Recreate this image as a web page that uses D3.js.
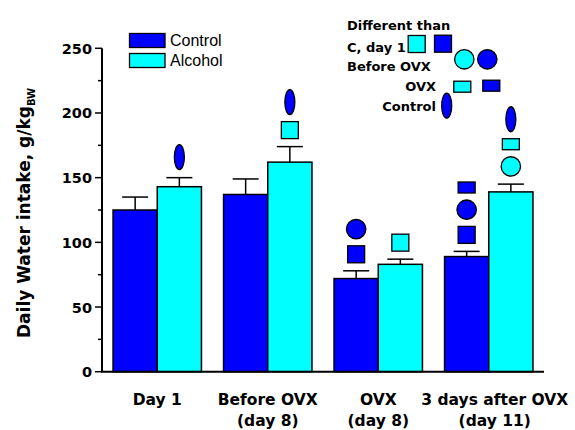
<!DOCTYPE html>
<html>
<head>
<meta charset="UTF-8">
<title>Daily water intake</title>
<script src="https://cdn.jsdelivr.net/npm/d3@7/dist/d3.min.js"></script>
<style>
    body { margin: 0; background: #fff; }
    .bold { font-family: "DejaVu Sans", sans-serif; font-weight: bold; fill: #000; }
    .reg { font-family: "Liberation Sans", Arial, sans-serif; fill: #000; }
</style>
</head>
<body>
<script>

    var categories = [["Day 1"], ["Before OVX", "(day 8)"], ["OVX", "(day 8)"], ["3 days after OVX", "(day 11)"]];
    var controlMean = [125, 137, 72, 89];
    var controlSem = [10, 12, 6, 4];
    var alcoholMean = [143, 162, 83, 139];
    var alcoholSem = [7, 12, 4, 6];
    var yTicks = [0, 50, 100, 150, 200, 250];
    // significance marks, bottom to top, for each bar
    var controlMarks = [[], [], ["day1", "before"], ["day1", "before", "ovx"]];
    var alcoholMarks = [["control"], ["day1", "control"], ["day1"], ["before", "ovx", "control"]];

    var blue = "#0000ff", cyan = "#00ffff";
    var width = 575, height = 430;
    // note: "top" is window.top, so use other names
    var plotL = 102, plotR = 544, plotT = 48.3, plotB = 371.7;

    var svg = d3.select("body").append("svg")
            .attr("width", width)
            .attr("height", height);

    var x = d3.scaleBand().domain(d3.range(4)).range([plotL, plotR]).paddingInner(0.2).paddingOuter(0.1);
    var y = d3.scaleLinear().domain([0, 250]).range([plotB, plotT]);
    var bw = x.bandwidth() / 2;

    var series = [
        {key: "Control", color: blue, mean: controlMean, sem: controlSem, marks: controlMarks, off: 0},
        {key: "Alcohol", color: cyan, mean: alcoholMean, sem: alcoholSem, marks: alcoholMarks, off: bw}
    ];

    // marker shapes: half height, drawing fn
    var shapes = {
        day1: {h: 8.5, draw: function(g, cx, cy, c) {
            g.append("rect").attr("x", cx - 8.5).attr("y", cy - 8.5).attr("width", 17).attr("height", 17)
                .attr("fill", c).attr("stroke", "#000").attr("stroke-width", 1.3);
        }},
        before: {h: 9.7, draw: function(g, cx, cy, c) {
            g.append("circle").attr("cx", cx).attr("cy", cy).attr("r", 9.7)
                .attr("fill", c).attr("stroke", "#000").attr("stroke-width", 1.3);
        }},
        ovx: {h: 5.5, draw: function(g, cx, cy, c) {
            g.append("rect").attr("x", cx - 8.5).attr("y", cy - 5.5).attr("width", 17).attr("height", 11)
                .attr("fill", c).attr("stroke", "#000").attr("stroke-width", 1.3);
        }},
        control: {h: 12.5, draw: function(g, cx, cy) {
            g.append("ellipse").attr("cx", cx).attr("cy", cy).attr("rx", 5).attr("ry", 12.5)
                .attr("fill", blue).attr("stroke", "#000").attr("stroke-width", 1.3);
        }}
    };

    var plot = svg.append("g");

    series.forEach(function(s) {
        var g = plot.append("g");
        g.selectAll("rect.bar").data(s.mean).enter().append("rect")
                .attr("class", "bar")
                .attr("x", function(d, i) { return x(i) + s.off; })
                .attr("y", function(d) { return y(d); })
                .attr("width", bw)
                .attr("height", function(d) { return y(0) - y(d); })
                .attr("fill", s.color)
                .attr("stroke", "#000")
                .attr("stroke-width", 1.5);

        // upper error bars
        s.mean.forEach(function(m, i) {
            var cx = x(i) + s.off + bw / 2;
            g.append("line").attr("x1", cx).attr("x2", cx).attr("y1", y(m)).attr("y2", y(m + s.sem[i]))
                .attr("stroke", "#000").attr("stroke-width", 1.5);
            g.append("line").attr("x1", cx - 13).attr("x2", cx + 13).attr("y1", y(m + s.sem[i])).attr("y2", y(m + s.sem[i]))
                .attr("stroke", "#000").attr("stroke-width", 1.5);

            var yy = y(m + s.sem[i]) - 8;
            s.marks[i].forEach(function(k) {
                var sh = shapes[k];
                sh.draw(g, cx, yy - sh.h, s.color);
                yy = yy - 2 * sh.h - 7;
            });
        });
    });

    // y axis
    var yAxis = svg.append("g").attr("transform", "translate(" + plotL + ",0)");
    yAxis.append("line").attr("x1", 0).attr("x2", 0).attr("y1", y(250)).attr("y2", y(0))
            .attr("stroke", "#000").attr("stroke-width", 2);
    yAxis.selectAll("line.minor").data(d3.range(25, 250, 50)).enter().append("line")
            .attr("class", "minor")
            .attr("x1", -4).attr("x2", 0).attr("y1", y).attr("y2", y)
            .attr("stroke", "#000").attr("stroke-width", 1.5);
    yAxis.selectAll("line.major").data(yTicks).enter().append("line")
            .attr("class", "major")
            .attr("x1", -7).attr("x2", 0).attr("y1", y).attr("y2", y)
            .attr("stroke", "#000").attr("stroke-width", 1.5);
    yAxis.selectAll("text").data(yTicks).enter().append("text")
            .attr("class", "bold")
            .attr("x", -10).attr("y", function(d) { return y(d) + 5.5; })
            .attr("text-anchor", "end")
            .style("font-size", "14.5px")
            .text(function(d) { return d; });

    // x axis
    svg.append("line").attr("x1", plotL - 1).attr("x2", plotR).attr("y1", plotB).attr("y2", plotB)
            .attr("stroke", "#000").attr("stroke-width", 2);
    categories.forEach(function(lines, i) {
        var t = svg.append("text").attr("class", "bold").attr("text-anchor", "middle")
                .style("font-size", "15.5px");
        lines.forEach(function(l, j) {
            t.append("tspan").attr("x", x(i) + x.bandwidth() / 2 + (i == 3 ? 6 : 0))
                .attr("y", 405 + j * 21).text(l);
        });
    });

    // y title
    var yt = svg.append("text").attr("class", "bold")
            .attr("transform", "translate(30,213) rotate(-90)")
            .attr("text-anchor", "middle")
            .style("font-size", "17px");
    yt.append("tspan").text("Daily Water intake, g/kg");
    yt.append("tspan").attr("dy", 5).style("font-size", "10px").text("BW");

    // legend
    var legend = svg.append("g");
    series.forEach(function(s, i) {
        legend.append("rect").attr("x", 129.5).attr("y", 33.5 + i * 20).attr("width", 35.5).attr("height", 14)
            .attr("fill", s.color).attr("stroke", "#000").attr("stroke-width", 1.3);
        legend.append("text").attr("class", "reg").attr("x", 170).attr("y", 46 + i * 20)
            .style("font-size", "16px").text(s.key);
    });

    // significance key
    var key = svg.append("g");
    key.append("text").attr("class", "bold").attr("x", 347).attr("y", 29.5).style("font-size", "13px").text("Different than");
    key.append("text").attr("class", "bold").attr("x", 347).attr("y", 51.5).style("font-size", "13px").text("C, day 1");
    key.append("text").attr("class", "bold").attr("x", 347).attr("y", 71).style("font-size", "13px").text("Before OVX");
    key.append("text").attr("class", "bold").attr("x", 436).attr("y", 91).attr("text-anchor", "end").style("font-size", "13px").text("OVX");
    key.append("text").attr("class", "bold").attr("x", 436).attr("y", 111).attr("text-anchor", "end").style("font-size", "13px").text("Control");
    shapes.day1.draw(key, 416.7, 44, cyan);
    shapes.day1.draw(key, 443, 43.7, blue);
    shapes.before.draw(key, 464.3, 59.3, cyan);
    shapes.before.draw(key, 487.3, 59.3, blue);
    shapes.ovx.draw(key, 462.3, 86.7, cyan);
    shapes.ovx.draw(key, 491.3, 85.7, blue);
    shapes.control.draw(key, 446.7, 105.7);

</script>
</body>
</html>
